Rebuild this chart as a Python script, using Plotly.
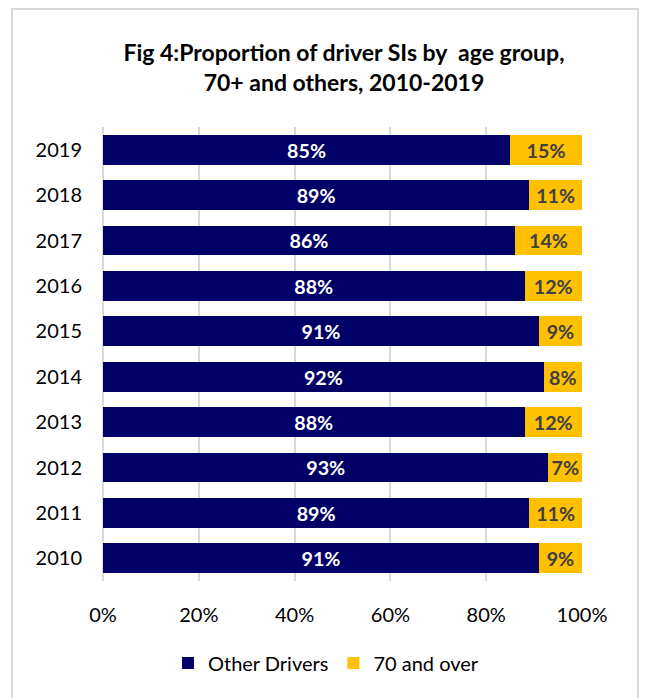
import plotly.graph_objects as go

years = ["2010", "2011", "2012", "2013", "2014", "2015", "2016", "2017", "2018", "2019"]
other_drivers = [91, 89, 93, 88, 92, 91, 88, 86, 89, 85]
seventy_plus = [9, 11, 7, 12, 8, 9, 12, 14, 11, 15]
x_ticks = [0, 20, 40, 60, 80, 100]

FONT = "Lato"
W, H = 645, 698
L, R, T, B = 103, 582, 127, 581  # plot area in pixels

fig = go.Figure()
fig.add_trace(go.Bar(
    name="Other Drivers", y=years, x=other_drivers, orientation="h",
    marker=dict(color="#000066", line=dict(width=0)),
    text=[f"{v}%" for v in other_drivers], textposition="inside",
    insidetextanchor="middle",
    textfont=dict(family=FONT, size=20, color="white", weight="bold"),
    hoverinfo="skip",
))
fig.add_trace(go.Bar(
    name="70 and over", y=years, x=seventy_plus, orientation="h",
    marker=dict(color="#FFC000", line=dict(width=0)),
    text=[f"{v}%" for v in seventy_plus], textposition="inside",
    insidetextanchor="middle",
    textfont=dict(family=FONT, size=20, color="#404040", weight="bold"),
    hoverinfo="skip",
))

pw, ph = R - L, B - T
def px_x(p):
    return (p - L) / pw
def px_y(p):
    return (B - p) / ph

fig.update_layout(
    width=W, height=H,
    margin=dict(l=L, r=W - R, t=T, b=H - B),
    barmode="stack", bargap=0.34,
    paper_bgcolor="white", plot_bgcolor="white",
    font=dict(family=FONT, size=20, color="black"),
    uniformtext=dict(minsize=8, mode="show"),
    title=dict(
        text="<b>Fig 4:Proportion of driver SIs by  age group,<br>70+ and others, 2010-2019</b>",
        x=344 / W, xanchor="center", y=1 - 61 / H, yanchor="middle",
        font=dict(family=FONT, size=23, color="black"),
    ),
    xaxis=dict(
        range=[0, 100], tickvals=x_ticks, ticktext=[f"{v}%" for v in x_ticks],
        showgrid=True, gridcolor="#D9D9D9", gridwidth=2,
        zeroline=False, showline=False, ticks="", ticklabelstandoff=20,
        tickfont=dict(family=FONT, size=20, color="black"),
    ),
    yaxis=dict(
        categoryorder="array", categoryarray=years,
        showgrid=False, zeroline=False, showline=False, ticks="",
        ticklabelstandoff=20,
        tickfont=dict(family=FONT, size=20, color="black"),
    ),
    legend=dict(
        orientation="h", x=px_x(326), xanchor="center", y=px_y(663), yanchor="middle",
        font=dict(family=FONT, size=20, color="black"),
        traceorder="normal", itemwidth=30,
    ),
    shapes=[
        dict(type="rect", xref="paper", yref="paper",
             x0=px_x(12), x1=px_x(638), y0=px_y(720), y1=px_y(9),
             line=dict(color="#D9D9D9", width=2), fillcolor="rgba(0,0,0,0)", layer="below"),
        dict(type="line", xref="paper", yref="paper",
             x0=0, x1=0, y0=px_y(B), y1=px_y(T),
             line=dict(color="#D9D9D9", width=2), layer="below"),
    ],
)

fig.write_html("out.html")
